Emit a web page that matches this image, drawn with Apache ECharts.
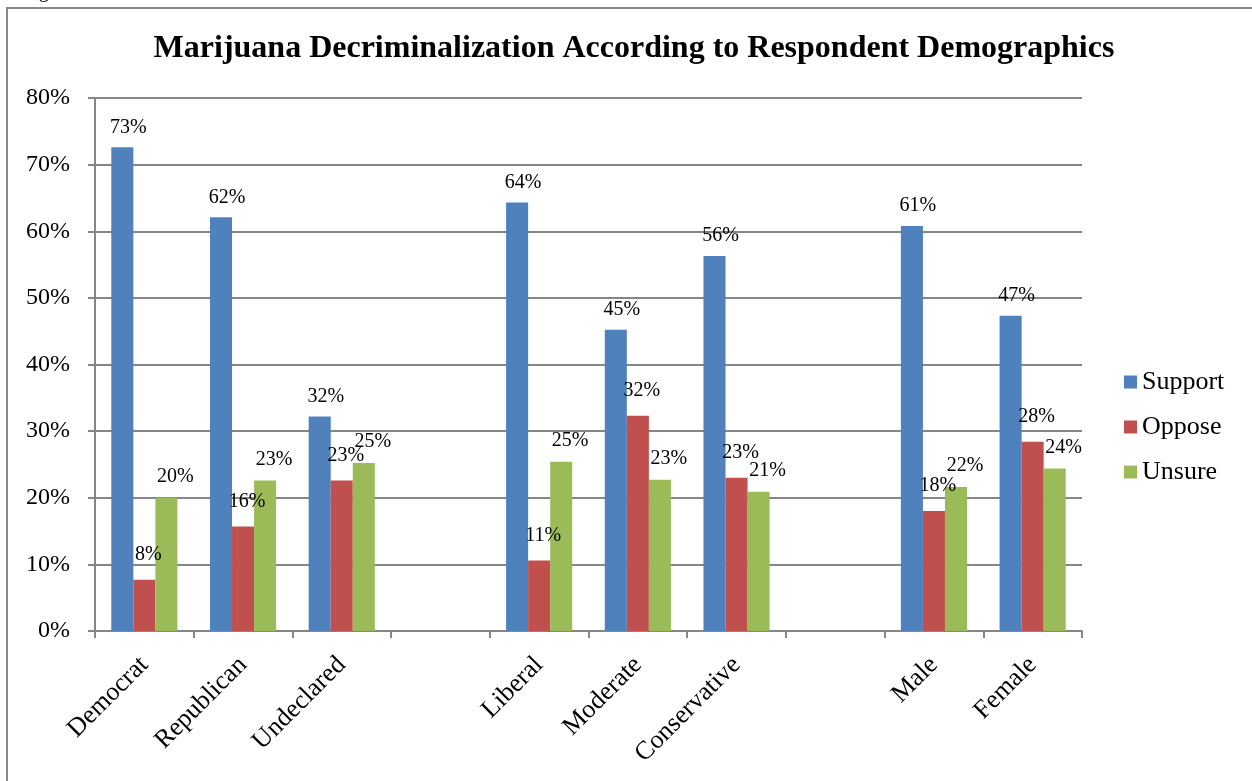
<!DOCTYPE html>
<html>
<head>
<meta charset="utf-8">
<script src="https://cdn.jsdelivr.net/npm/echarts@6/dist/echarts.min.js"></script>
<style>
html,body{margin:0;padding:0;background:#fff;}
#chart{width:1252px;height:781px;}
</style>
</head>
<body>
<div id="chart"></div>
<script>
const categories = ['Democrat','Republican','Undeclared','','Liberal','Moderate','Conservative','','Male','Female'];
const support = [72.6, 62.1, 32.2, null, 64.3, 45.2, 56.3, null, 60.8, 47.3];
const oppose  = [7.7, 15.7, 22.6, null, 10.6, 32.3, 23.0, null, 18.0, 28.4];
const unsure  = [20.0, 22.6, 25.2, null, 25.4, 22.7, 20.9, null, 21.6, 24.4];
const yTicks = ['0%','10%','20%','30%','40%','50%','60%','70%','80%'];

const serif = '"Liberation Serif","Times New Roman",serif';
const chart = echarts.init(document.getElementById('chart'));
const lbl = (dist, off) => ({
  show: true, position: 'top', distance: dist, offset: off,
  formatter: p => Math.round(p.value) + '%',
  fontFamily: serif, fontSize: 20, color: '#000'
});
chart.setOption({
  animation: false,
  backgroundColor: '#fff',
  title: {
    text: 'Marijuana Decriminalization According to Respondent Demographics',
    left: 629, top: 28, textAlign: 'center',
    textStyle: {fontFamily: serif, fontSize: 32, fontWeight: 'bold', color: '#000'}
  },
  graphic: [
    {type: 'rect', shape: {x: 7, y: 8, width: 1300, height: 900}, style: {fill: 'none', stroke: '#8a8a8a', lineWidth: 2}},
    {type: 'text', left: 22, top: -18, style: {text: 'Figure', fontFamily: serif, fontSize: 20, fill: '#000'}}
  ],
  legend: {
    orient: 'vertical', left: 1124, top: 369, itemGap: 19, padding: 0,
    itemWidth: 13, itemHeight: 13, icon: 'rect',
    textStyle: {fontFamily: serif, fontSize: 26, color: '#000'},
    data: ['Support','Oppose','Unsure']
  },
  grid: {left: 95, right: 170, top: 98, bottom: 150},
  xAxis: {
    type: 'category', data: categories,
    axisLine: {lineStyle: {color: '#868686', width: 2}},
    axisTick: {show: true, length: 7, lineStyle: {color: '#868686', width: 2}},
    axisLabel: {rotate: 45, interval: 0, fontFamily: serif, fontSize: 26, color: '#000', margin: 30}
  },
  yAxis: {
    type: 'value', min: 0, max: 80, interval: 10,
    axisLine: {show: true, lineStyle: {color: '#868686', width: 2}},
    axisTick: {show: true, length: 7, lineStyle: {color: '#868686', width: 2}},
    splitLine: {lineStyle: {color: '#868686', width: 2}},
    axisLabel: {formatter: v => yTicks[v / 10], fontFamily: serif, fontSize: 24, color: '#000', margin: 25}
  },
  series: [
    {name: 'Support', type: 'bar', data: support, barGap: '0%', barCategoryGap: '33%',
      itemStyle: {color: '#4F81BD'}, label: lbl(10, [6, 0])},
    {name: 'Oppose', type: 'bar', data: oppose, barGap: '0%', barCategoryGap: '33%',
      itemStyle: {color: '#C0504D'}, label: lbl(15, [4, 0])},
    {name: 'Unsure', type: 'bar', data: unsure, barGap: '0%', barCategoryGap: '33%',
      itemStyle: {color: '#9BBB59'}, label: lbl(11, [9, 0])}
  ]
});
</script>
</body>
</html>
